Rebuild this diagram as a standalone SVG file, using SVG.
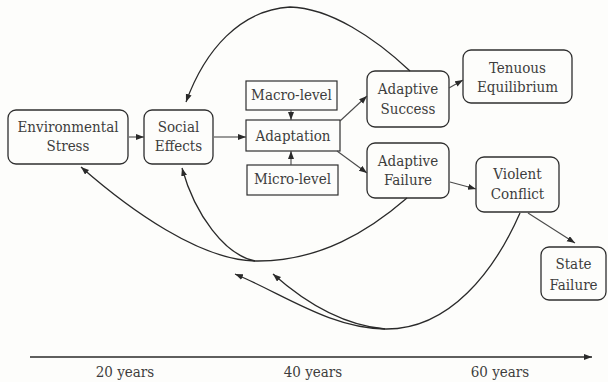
<svg xmlns="http://www.w3.org/2000/svg" width="608" height="382" viewBox="0 0 608 382">
<defs>
<marker id="ah" markerUnits="userSpaceOnUse" markerWidth="9" markerHeight="7" refX="8" refY="3" orient="auto">
<path d="M0,0 L8,3 L0,6 z" fill="#2a2a2a"/>
</marker>
<style>
.bg{fill:#fdfdfb}
.rbox{fill:#fdfdfb;stroke:#2f2f2f;stroke-width:1.3}
.sbox{fill:#fdfdfb;stroke:#2f2f2f;stroke-width:1.2}
.t{font-family:"DejaVu Serif Condensed","DejaVu Serif",serif;font-size:15px;fill:#3d3d3d;text-anchor:middle}
.c{fill:none;stroke:#2a2a2a;stroke-width:1.3}
.s{fill:none;stroke:#4a4a4a;stroke-width:1.1}
</style>
</defs>
<rect class="bg" x="0" y="0" width="608" height="382"/>

<g id="env-stress">
<rect class="rbox" x="8" y="110" width="120" height="54" rx="8"/>
<text class="t" x="68" y="132">Environmental</text>
<text class="t" x="68" y="151">Stress</text>
</g>
<g id="social-effects">
<rect class="rbox" x="144" y="110" width="69" height="54" rx="8"/>
<text class="t" x="178.5" y="132">Social</text>
<text class="t" x="178.5" y="151">Effects</text>
</g>
<g id="macro-level">
<rect class="sbox" x="246" y="81" width="91" height="29"/>
<text class="t" x="291.5" y="100">Macro-level</text>
</g>
<g id="adaptation">
<rect class="sbox" x="246" y="120" width="94" height="31"/>
<text class="t" x="293" y="141">Adaptation</text>
</g>
<g id="micro-level">
<rect class="sbox" x="247" y="165" width="91" height="30"/>
<text class="t" x="292.5" y="184">Micro-level</text>
</g>
<g id="adaptive-success">
<rect class="rbox" x="367" y="71" width="82" height="56" rx="8"/>
<text class="t" x="408" y="94">Adaptive</text>
<text class="t" x="408" y="114">Success</text>
</g>
<g id="tenuous-equilibrium">
<rect class="rbox" x="463" y="50" width="109" height="53" rx="8"/>
<text class="t" x="517.5" y="73">Tenuous</text>
<text class="t" x="517.5" y="92">Equilibrium</text>
</g>
<g id="adaptive-failure">
<rect class="rbox" x="367" y="143" width="82" height="55" rx="8"/>
<text class="t" x="408" y="166">Adaptive</text>
<text class="t" x="408" y="185">Failure</text>
</g>
<g id="violent-conflict">
<rect class="rbox" x="476" y="157" width="83" height="55" rx="8"/>
<text class="t" x="517.5" y="179">Violent</text>
<text class="t" x="517.5" y="199">Conflict</text>
</g>
<g id="state-failure">
<rect class="rbox" x="541" y="247" width="65" height="53" rx="8"/>
<text class="t" x="573.5" y="269">State</text>
<text class="t" x="573.5" y="290">Failure</text>
</g>

<g id="connectors">
<line class="s" x1="129" y1="137" x2="144" y2="137" marker-end="url(#ah)"/>
<line class="s" x1="214" y1="137" x2="246" y2="137" marker-end="url(#ah)"/>
<line class="s" x1="291" y1="110" x2="291" y2="120" marker-end="url(#ah)"/>
<line class="s" x1="291" y1="165" x2="291" y2="151" marker-end="url(#ah)"/>
<line class="s" x1="340" y1="121" x2="367" y2="96" marker-end="url(#ah)"/>
<line class="s" x1="337" y1="151" x2="367" y2="173" marker-end="url(#ah)"/>
<line class="s" x1="449" y1="88" x2="463" y2="80" marker-end="url(#ah)"/>
<line class="s" x1="450" y1="182" x2="476" y2="189" marker-end="url(#ah)"/>
<line class="s" x1="528" y1="213" x2="575" y2="243" marker-end="url(#ah)"/>
<path class="c" d="M410,71 C375,38 330,8 290,7 C240,10 205,50 186,102" marker-end="url(#ah)"/>
<path class="c" d="M407,198 C370,230 320,262 255,261"/>
<path class="c" d="M255,261 C200,260 130,210 81,167" marker-end="url(#ah)"/>
<path class="c" d="M255,261 C225,255 195,215 182,168" marker-end="url(#ah)"/>
<path class="c" d="M520,213 C495,270 450,330 385,329"/>
<path class="c" d="M385,329 C330,328 285,295 235,274" marker-end="url(#ah)"/>
<path class="c" d="M385,329 C340,325 300,298 273,274" marker-end="url(#ah)"/>
<line x1="30" y1="357" x2="592" y2="357" stroke="#2a2a2a" stroke-width="1.6" marker-end="url(#ah)"/>
</g>

<g id="axis-labels">
<text class="t" x="125" y="377">20 years</text>
<text class="t" x="313" y="377">40 years</text>
<text class="t" x="500" y="377">60 years</text>
</g>
</svg>
